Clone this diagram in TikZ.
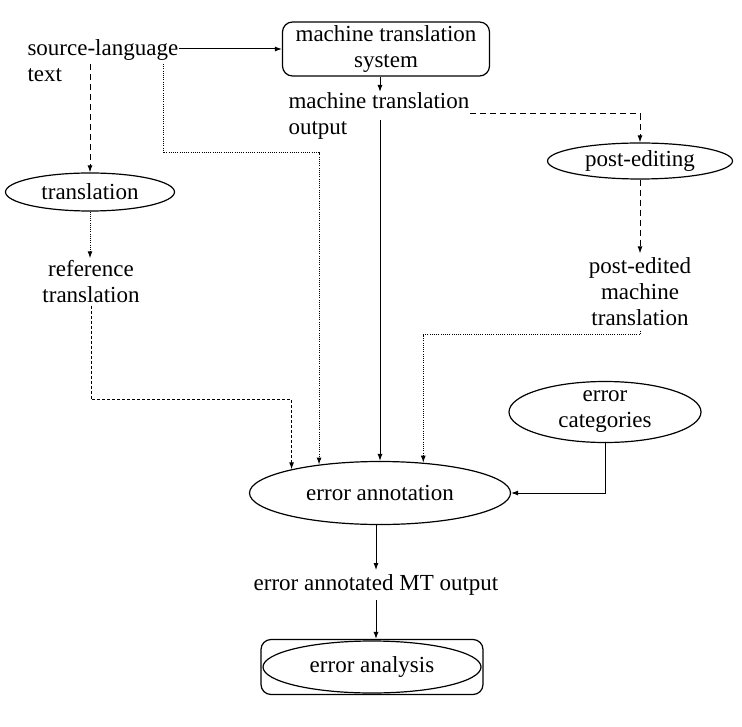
\documentclass[tikz,border=0pt]{standalone}
\usepackage{fontspec}
\setmainfont{Liberation Serif}
\usetikzlibrary{shapes.geometric,arrows.meta}
\tikzset{
every picture/.style={
line width=0.5pt
}}

\begin{document}
\begin{tikzpicture}[x=0.5pt, y=-0.5pt, >={Latex[length=3.5pt,width=2.5pt]},
every node/.style = {font=\fontsize{11.5}{13}\selectfont, inner sep=1pt},
box/.style = {rectangle, rounded corners=5pt, draw=black, line width=0.6pt, align=center},
oval/.style = {ellipse, draw=black, line width=0.6pt, align=center, inner sep=0pt},
txt/.style = {align=left, inner sep=0pt},
longdash/.style = {dash pattern=on 3pt off 2pt},
shortdash/.style = {dash pattern=on 1.5pt off 1pt},
dots/.style = {dash pattern=on 0.5pt off 0.6pt}]
\useasboundingbox (0,0) rectangle (742,726);

\node[txt, anchor=north west] at (27,39) (src) {source-language\\text};
\node[box, minimum width=103.5pt, minimum height=27pt] at (386,49) (mts) {machine translation\\system};
\node[txt, anchor=north west] at (288,92) (mto) {machine translation\\output};
\node[oval, minimum width=84.5pt, minimum height=19pt] at (90,192) (tr) {translation};
\node[txt, align=center, inner sep=1pt] at (91,282) (ref) {reference\\translation};
\node[oval, minimum width=92.5pt, minimum height=18pt] at (640,161) (pe) {post-editing};
\node[txt, align=center, inner sep=2pt] at (640,292) (ped) {post-edited\\machine\\translation};
\node[oval, minimum width=96pt, minimum height=30.5pt] at (605,412) (ec) {error\\categories};
\node[oval, minimum width=130.5pt, minimum height=31.5pt] at (380,493) (ann) {error annotation};
\node[inner sep=2pt] at (376,585) (emt) {error annotated MT output};
\node[box, minimum width=111pt, minimum height=27.5pt] at (372,667) (ea) {error analysis};
\node[oval, minimum width=109pt, minimum height=26pt] at (ea.center) (eao) {};

% source side
\coordinate (srcl) at (90,64);
\coordinate (srcr) at (163,64);
\draw[->] (mts.west -| src.east) -- (mts.west);
\draw[longdash,->] (srcl) -- (srcl |- tr.north);
\draw[dots,->] (tr.south) -- (tr.south |- ref.north);
\draw[shortdash,->] (ref.south) -- ++(0,94) -| (ann.165);
\draw[dots,->] (srcr) -- ++(0,89) -| (ann.155);

% mt side
\coordinate (mtl) at (380,120);
\coordinate (mtr) at (470,114);
\draw[->] ([xshift=-3pt]mts.south) -- ([xshift=-3pt]mts.south |- mto.north);
\draw[->] (mtl) -- (ann.north);
\draw[longdash,->] (mtr) -| (pe.north);
\draw[longdash,->] (pe.south) -- (ped.north);
\draw[dots,->] (ped.south) -- ++(0,4) -| (ann.35);
\draw[->] (ec.south) |- (ann.east);

\draw[->] (ann.south -| emt.north) -- (emt.north);
\draw[->] (emt.south) -- (emt.south |- ea.north);

\end{tikzpicture}
\end{document}
